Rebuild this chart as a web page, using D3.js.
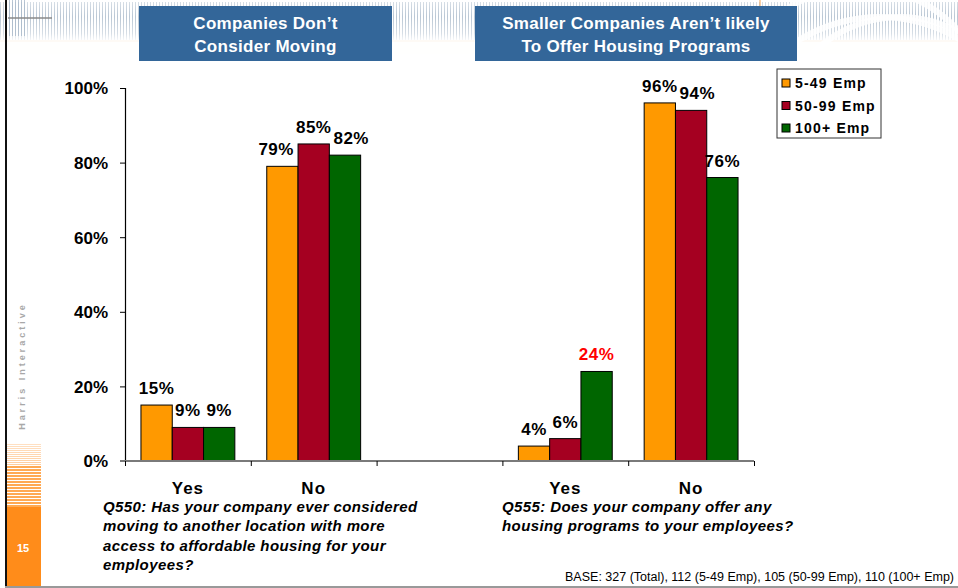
<!DOCTYPE html>
<html>
<head>
<meta charset="utf-8">
<script src="https://cdn.jsdelivr.net/npm/d3@7"></script>
<style>
  html, body { margin: 0; padding: 0; background: #fff; }
  svg { display: block; font-family: Arial, "Liberation Sans", sans-serif; }
</style>
</head>
<body>
<svg id="chart" width="958" height="588"></svg>
<script>
// Survey answers, percent of companies by size (the third slot is a spacer between questions)
const categories = ["Yes", "No", "", "Yes", "No"];
const seriesNames = ["5-49 Emp", "50-99 Emp", "100+ Emp"];
const emp5to49 = [15, 79, null, 4, 96];
const emp50to99 = [9, 85, null, 6, 94];
const emp100plus = [9, 82, null, 24, 76];
const yTicks = [0, 20, 40, 60, 80, 100];
const panelTitles = [
  ["Companies Don\u2019t", "Consider Moving"],
  ["Smaller Companies Aren\u2019t likely", "To Offer Housing Programs"]
];
const questions = [
  ["Q550: Has your company ever considered", "moving to another location with more", "access to affordable housing for your", "employees?"],
  ["Q555: Does your company offer any", "housing programs to your employees?"]
];
const baseNote = "BASE: 327 (Total), 112 (5-49 Emp), 105 (50-99 Emp), 110 (100+ Emp)";
const highlighted = [[2, 3]]; // [series, category] labels shown in red

const colors = ["#FF9900", "#A50021", "#006600"];
const series = [emp5to49, emp50to99, emp100plus];

const svg = d3.select("#chart");
const W = 958, H = 588;

// ---- page decoration: striped header band ----
const defs = svg.append("defs");
const pat = defs.append("pattern").attr("id", "stripes").attr("patternUnits", "userSpaceOnUse")
  .attr("width", 3).attr("height", 10);
pat.append("rect").attr("width", 1).attr("height", 10).attr("fill", "#a9b9ca");
const fade = defs.append("linearGradient").attr("id", "fade").attr("x1", 0).attr("x2", 0).attr("y1", 0).attr("y2", 1);
fade.append("stop").attr("offset", 0).attr("stop-color", "#fff").attr("stop-opacity", 0.5);
fade.append("stop").attr("offset", 0.4).attr("stop-color", "#fff").attr("stop-opacity", 0.05);
fade.append("stop").attr("offset", 0.8).attr("stop-color", "#fff").attr("stop-opacity", 0.45);
fade.append("stop").attr("offset", 1).attr("stop-color", "#fff").attr("stop-opacity", 1);
const hdr = svg.append("g");
hdr.append("rect").attr("x", 0).attr("y", 2).attr("width", W).attr("height", 38).attr("fill", "url(#stripes)").attr("opacity", 0.85);
hdr.append("rect").attr("x", 0).attr("y", 0).attr("width", W).attr("height", 42).attr("fill", "url(#fade)");
hdr.append("rect").attr("x", 8).attr("y", 0).attr("width", 18).attr("height", 36).attr("fill", "url(#stripes)").attr("opacity", 0.8);
hdr.append("rect").attr("x", 0).attr("y", 40).attr("width", W).attr("height", 14).attr("fill", "#fdf6ee").attr("opacity", 0.6);
hdr.append("line").attr("x1", 8).attr("x2", 52).attr("y1", 18).attr("y2", 18).attr("stroke", "#8a8a8a").attr("stroke-width", 1.5);
// white swirl arcs on the right
[[860, 120, 130], [900, 140, 120], [880, 170, 150]].forEach(([cx, cy, r]) => {
  hdr.append("path")
    .attr("d", d3.arc()({ innerRadius: r, outerRadius: r + 6, startAngle: -1.1, endAngle: 1.1 }))
    .attr("transform", `translate(${cx},${cy})`)
    .attr("fill", "#fff").attr("opacity", 0.85);
});
hdr.append("rect").attr("x", 0).attr("y", 42).attr("width", W).attr("height", 20).attr("fill", "#fff").attr("opacity", 0.9);
hdr.append("line").attr("x1", 760).attr("x2", 760).attr("y1", 0).attr("y2", 18).attr("stroke", "#f0a050").attr("stroke-width", 1);

// left frame line and orange side strip
svg.append("rect").attr("x", 5).attr("y", 0).attr("width", 2).attr("height", H).attr("fill", "#111");
const side = svg.append("g");
d3.range(0, 22, 2).forEach(i => {
  side.append("rect").attr("x", 7).attr("y", 444 + i).attr("width", 34).attr("height", 1)
    .attr("fill", "#FFA54F").attr("opacity", 0.35 + i * 0.01);
});
d3.range(0, 42, 3).forEach(i => {
  side.append("rect").attr("x", 7).attr("y", 466 + i).attr("width", 34).attr("height", 2)
    .attr("fill", "#FF8C1A").attr("opacity", 0.75);
});
side.append("rect").attr("x", 7).attr("y", 507).attr("width", 34).attr("height", 81).attr("fill", "#FF8C1A");
side.append("text").attr("x", 23).attr("y", 552).attr("text-anchor", "middle")
  .attr("fill", "#fff").attr("font-size", 11).attr("font-weight", "bold").text("15");
side.append("text").attr("transform", "translate(25,366) rotate(-90)").attr("text-anchor", "middle")
  .attr("fill", "#a8a8a8").attr("font-size", 9).attr("font-weight", "bold").attr("letter-spacing", 3)
  .text("Harris Interactive");
svg.append("rect").attr("x", 5).attr("y", 586).attr("width", W).attr("height", 2).attr("fill", "#999");

// ---- scales ----
const x = d3.scaleBand().domain(d3.range(categories.length)).range([125, 754]).paddingInner(0).paddingOuter(0);
const xSub = d3.scaleBand().domain(d3.range(series.length)).range([0, x.bandwidth()]).paddingInner(0).paddingOuter(0.51);
const y = d3.scaleLinear().domain([0, 100]).range([461, 88]);
const xEdge = d3.scaleLinear().domain([0, categories.length]).range([125, 754]);

// ---- y axis ----
const yAxis = svg.append("g").attr("transform", "translate(125,0)")
  .call(d3.axisLeft(y).tickValues(yTicks).tickFormat(d => d + "%").tickSize(5).tickPadding(12));
yAxis.select(".domain").attr("stroke", "#000").attr("stroke-width", 1.2);
yAxis.selectAll(".tick line").attr("stroke", "#000");
yAxis.selectAll("text").attr("font-size", 17).attr("font-weight", "bold").attr("fill", "#000")
  .attr("font-family", "Arial, 'Liberation Sans', sans-serif").attr("dy", "0.35em");

// ---- bars and value labels ----
const groups = svg.append("g").selectAll("g").data(categories).join("g")
  .attr("transform", (d, i) => `translate(${x(i)},0)`);
groups.each(function (cat, ci) {
  const g = d3.select(this);
  const labels = [];
  series.forEach((vals, si) => {
    const v = vals[ci];
    if (v == null) return;
    g.append("rect")
      .attr("x", xSub(si)).attr("y", y(v))
      .attr("width", xSub.bandwidth()).attr("height", y(0) - y(v))
      .attr("fill", colors[si]).attr("stroke", "#000").attr("stroke-width", 1);
    const red = highlighted.some(([s, c]) => s === si && c === ci);
    const t = g.append("text")
      .attr("x", xSub(si) + xSub.bandwidth() / 2).attr("y", y(v) - 11)
      .attr("text-anchor", "middle").attr("font-size", 17).attr("font-weight", "bold")
      .attr("letter-spacing", 0.5)
      .attr("fill", red ? "#FF0000" : "#000").text(v + "%");
    labels.push({ node: t, cx: xSub(si) + xSub.bandwidth() / 2, cy: y(v), w: t.node().getComputedTextLength() });
  });
  // nudge crowded neighbouring labels apart, moving the lower one
  for (let i = 0; i < labels.length - 1; i++) {
    const a = labels[i], b = labels[i + 1];
    const overlap = (a.w + b.w) / 2 - (b.cx - a.cx);
    if (Math.abs(a.cy - b.cy) < 30 && overlap > 3) {
      const shift = overlap + 2;
      if (a.cy > b.cy) { a.cx -= shift; a.node.attr("x", a.cx); }
      else { b.cx += shift; b.node.attr("x", b.cx); }
    }
  }
});

// ---- x axis with ticks between categories ----
const xAxis = svg.append("g").attr("transform", `translate(0,${y(0)})`)
  .call(d3.axisBottom(xEdge).tickValues(d3.range(categories.length + 1)).tickFormat("").tickSizeInner(5).tickSizeOuter(0));
xAxis.select(".domain").attr("stroke", "#7a7a7a").attr("stroke-width", 2).attr("d", "M120,0H754");
xAxis.selectAll(".tick line").attr("stroke", "#000");

// category labels
svg.append("g").selectAll("text").data(categories).join("text")
  .attr("x", (d, i) => x(i) + x.bandwidth() / 2).attr("y", 494)
  .attr("text-anchor", "middle").attr("font-size", 17).attr("font-weight", "bold")
  .attr("letter-spacing", 1).attr("fill", "#000").text(d => d);

// ---- panel titles ----
const titleBoxes = [[139, 392], [475, 797]];
panelTitles.forEach((lines, i) => {
  const [x0, x1] = titleBoxes[i];
  svg.append("rect").attr("x", x0).attr("y", 6).attr("width", x1 - x0).attr("height", 55).attr("fill", "#336699");
  lines.forEach((t, j) => {
    svg.append("text").attr("x", (x0 + x1) / 2).attr("y", 29 + j * 23)
      .attr("text-anchor", "middle").attr("fill", "#fff").attr("font-size", 17)
      .attr("font-weight", "bold").attr("letter-spacing", 0.3).text(t);
  });
});

// ---- question texts ----
const qx = [103, 502];
questions.forEach((lines, i) => {
  lines.forEach((t, j) => {
    svg.append("text").attr("x", qx[i]).attr("y", 512 + j * 19.3)
      .attr("font-size", 15).attr("font-weight", "bold").attr("font-style", "italic")
      .attr("letter-spacing", 0.4).attr("fill", "#000").text(t);
  });
});

svg.append("text").attr("x", 954).attr("y", 581).attr("text-anchor", "end")
  .attr("font-size", 12.5).attr("fill", "#000").text(baseNote);

// ---- legend ----
const lg = svg.append("g");
lg.append("rect").attr("x", 777).attr("y", 69).attr("width", 104).attr("height", 69)
  .attr("fill", "#fff").attr("stroke", "#333").attr("stroke-width", 1);
seriesNames.forEach((name, i) => {
  const cy = 83 + i * 22.5;
  lg.append("rect").attr("x", 782).attr("y", cy - 4).attr("width", 8).attr("height", 8)
    .attr("fill", colors[i]).attr("stroke", "#000").attr("stroke-width", 1);
  lg.append("text").attr("x", 795).attr("y", cy + 5).attr("font-size", 14).attr("font-weight", "bold")
    .attr("letter-spacing", 1.2).attr("fill", "#000").text(name);
});
</script>
</body>
</html>
